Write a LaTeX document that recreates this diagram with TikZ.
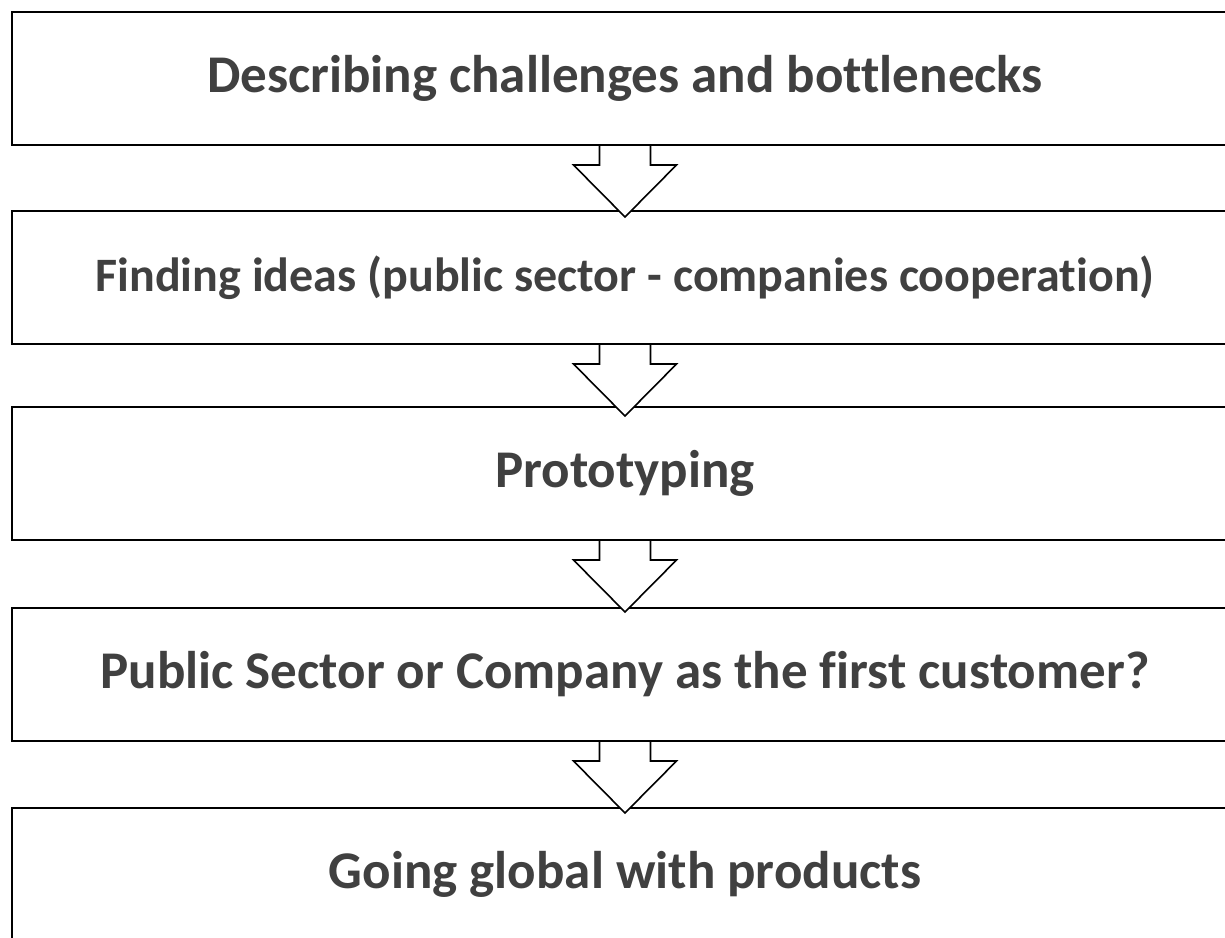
\documentclass[tikz,border=0pt]{standalone}
\usepackage{fontspec}
\setmainfont{Carlito}[Ligatures=NoCommon]
\usepackage{tikz}
\usetikzlibrary{calc, positioning}
\definecolor{textgray}{HTML}{404040}
\tikzset{
    stage/.style={rectangle, draw=black, line width=2pt, fill=white, minimum width=1226pt, minimum height=133pt, inner sep=0pt, align=center, text=textgray, font=\bfseries\fontsize{53}{60}\selectfont},
    flow/.style={draw=black, line width=1.6pt, line join=miter, fill=white}
}

\begin{document}
\begin{tikzpicture}[x=1pt, y=-1pt]
    \useasboundingbox (0,0) rectangle (1225,937);

    % Stages, top to bottom
    \node[stage] (describe) at (625,78.5) {Describing challenges and bottlenecks};
    \node[stage, font=\bfseries\fontsize{48}{56}\selectfont] (ideas) at (625,277.5) {Finding ideas (public sector - companies cooperation)};
    \node[stage] (proto) at (625,473.5) {Prototyping};
    \node[stage] (customer) at (625,674.5) {Public Sector or Company as the first customer?};
    \node[stage] (global) at (625,874.5) {Going global with products};

    % Block arrows between the stages
    \foreach \a in {describe, ideas, proto, customer} {
        \fill[white] ($(\a.south)+(-25.5,0)$) -- ++(0,19) -- ++(-26,0) -- ($(\a.south)+(0,71)$)
            -- ($(\a.south)+(51.5,19)$) -- ++(-26,0) -- ++(0,-19) -- cycle;
        \draw[flow, fill=none] ($(\a.south)+(-25.5,0)$) -- ++(0,19) -- ++(-26,0) -- ($(\a.south)+(0,71)$)
            -- ($(\a.south)+(51.5,19)$) -- ++(-26,0) -- ++(0,-19);
    }
\end{tikzpicture}
\end{document}
